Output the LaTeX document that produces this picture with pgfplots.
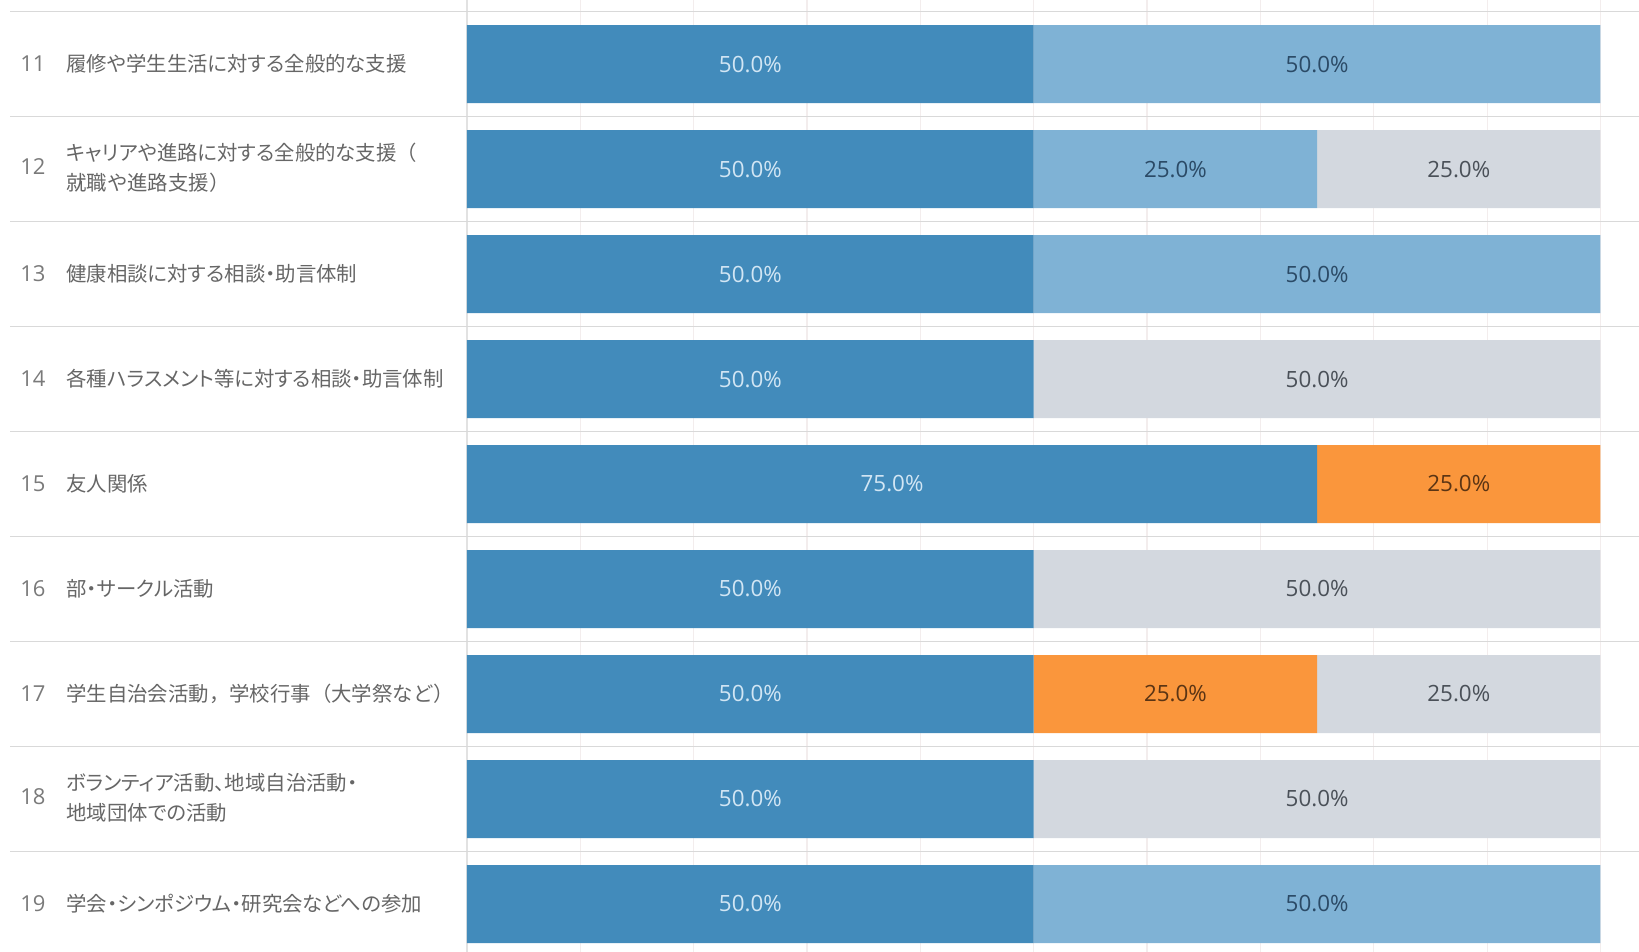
\documentclass[border=0pt]{standalone}
\usepackage{pgfplots}
\usepackage{pgfplotstable}
\pgfplotsset{compat=1.18}
\usepackage{fontspec}
\setmainfont{Open Sans}
\newfontfamily\jp[RawFeature=+palt]{Noto Sans CJK JP}
\newfontfamily\jpf{Noto Sans CJK JP}
\definecolor{cA}{HTML}{428BBB}
\definecolor{cB}{HTML}{7FB2D5}
\definecolor{cC}{HTML}{FA963C}
\definecolor{cD}{HTML}{D3D8DF}
\definecolor{tA}{HTML}{D2E6F4}
\definecolor{tB}{HTML}{2B4A66}
\definecolor{tC}{HTML}{5A3414}
\definecolor{tD}{HTML}{4A5058}
\definecolor{lab}{HTML}{666666}
\definecolor{num}{HTML}{7A7A7A}
\definecolor{rule}{HTML}{D9D9D9}
\definecolor{sep}{HTML}{E2E2E2}
\definecolor{gridc}{HTML}{F3EDED}

\pgfplotstableread{
row A B C D
11 50 50 0 0
12 50 25 0 25
13 50 50 0 0
14 50 0 0 50
15 75 0 25 0
16 50 0 0 50
17 50 0 25 25
18 50 0 0 50
19 50 50 0 0
}\data

\newcommand\num[1]{\textcolor{num}{\makebox[23pt][l]{\setmainfont{Open Sans}\fontsize{11}{13}\selectfont #1}}}

\begin{document}
\begin{tikzpicture}
\begin{axis}[
  width=819.5pt, height=476pt, scale only axis,
  xmin=-41.2, xmax=103.4, ymin=10.39, ymax=19.457, y dir=reverse,
  xbar stacked, bar width=0.743,
  axis line style={draw=none},
  xtick={10,20,...,100}, xticklabels={},
  xmajorgrids, major grid style={draw=gridc, line width=0.6pt},
  extra x ticks={0}, extra x tick labels={},
  extra x tick style={major grid style={draw=sep, line width=0.8pt}},
  ytick={11,...,19},
  yticklabels={
    {\num{11}履修や学生生活に対する全般的な支援},
    {\num{12}\begin{tabular}{@{}l@{}}キャリアや進路に対する全般的な支援{\jpf （}\\{\jpf 就職や進路支援）}\end{tabular}},
    {\num{13}健康相談に対する相談・助言体制},
    {\num{14}各種ハラスメント等に対する相談・助言体制},
    {\num{15}友人関係},
    {\num{16}部・サークル活動},
    {\num{17}{\jpf 学生自治会活動，学校行事（大学祭など）}},
    {\num{18}\begin{tabular}{@{}l@{}}ボランティア活動、地域自治活動・\\地域団体での活動\end{tabular}},
    {\num{19}学会・シンポジウム・研究会などへの参加}
  },
  yticklabel style={anchor=west, xshift=10pt, inner sep=0pt, text=lab,
    font=\jp\fontsize{10.2}{15}\selectfont},
  major tick length=0pt,
  clip=false,
  /pgf/number format/assume math mode=true,
  nodes near coords={\pgfmathfloatifflags{\pgfplotspointmeta}{0}{}{\pgfmathprintnumber[fixed,fixed zerofill,precision=1]{\pgfplotspointmeta}\%}},
  every node near coord/.style={anchor=center, font=\fontsize{11.2}{13}\selectfont},
]
\coordinate (bl) at (rel axis cs:0,0);
\coordinate (tr) at (rel axis cs:1,1);
\pgfplotsinvokeforeach{10.5,11.5,...,18.5}{
  \draw[rule, line width=0.9pt] (axis cs:-40.3,#1) -- (axis cs:103.4,#1);
}
\addplot[fill=cA, draw=none, every node near coord/.append style={text=tA}] table[x=A, y=row] {\data};
\addplot[fill=cB, draw=none, every node near coord/.append style={text=tB}] table[x=B, y=row] {\data};
\addplot[fill=cC, draw=none, every node near coord/.append style={text=tC}] table[x=C, y=row] {\data};
\addplot[fill=cD, draw=none, every node near coord/.append style={text=tD}] table[x=D, y=row] {\data};
\end{axis}
\pgfresetboundingbox
\path (bl) rectangle (tr);
\end{tikzpicture}
\end{document}
